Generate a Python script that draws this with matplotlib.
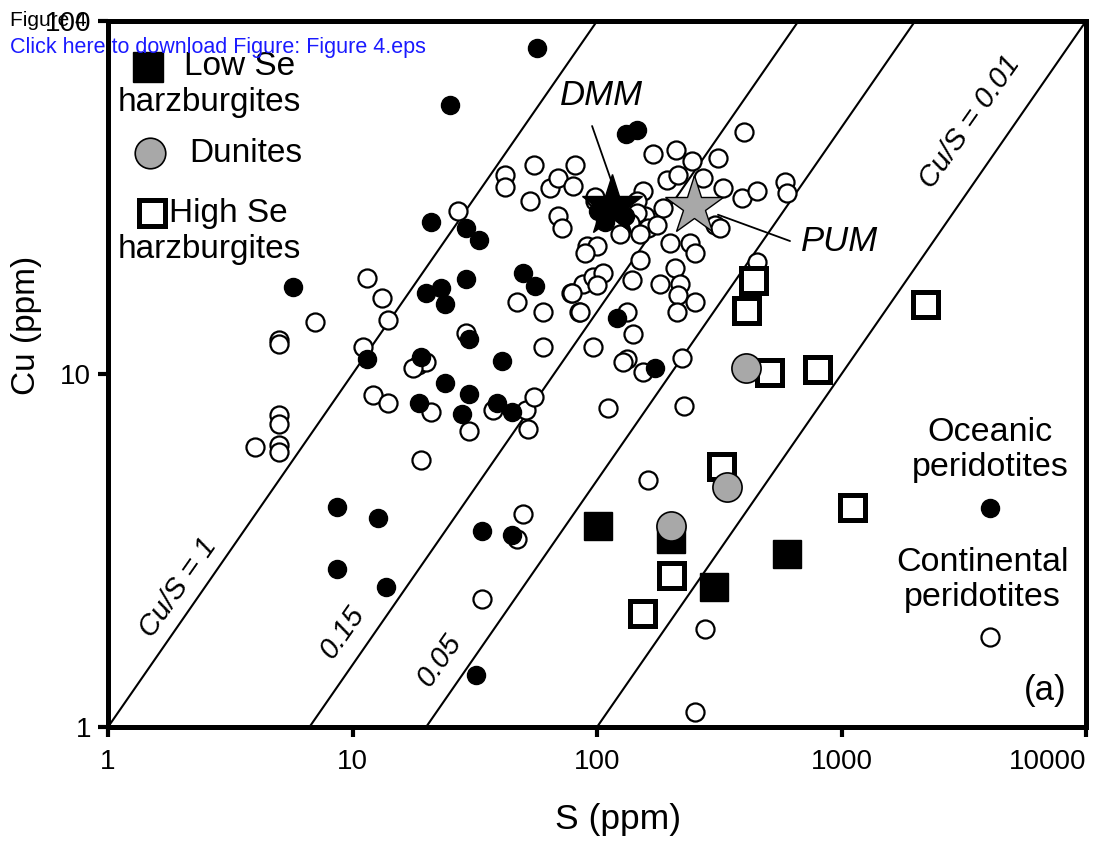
import numpy as np
import matplotlib.pyplot as plt

plt.rcParams['font.family'] = ['Liberation Sans', 'DejaVu Sans']
NARROW = ['Liberation Sans Narrow', 'Liberation Sans']

# continental peridotites (open circles): S, Cu in ppm
cont_S = [42, 42, 55, 53, 64, 69, 81, 80, 69, 72, 27, 98, 91, 100,
          89, 47, 60, 78, 88, 84, 96, 11.5, 13.2, 14, 7, 5, 5, 11, 18.5, 20, 17.7, 60, 96, 29,
          400, 169, 211, 245, 313, 193, 214, 271, 154, 186, 157, 162, 176, 328, 392, 451, 587, 600,
          304, 318, 199, 240,
          252, 150, 208, 219, 181, 214, 252, 212, 139, 140, 133, 154, 223, 450,
          106, 100, 79, 85, 133, 128,
          98, 146, 146, 136, 124, 150,
          12.1, 14, 21, 30, 37.6, 51, 55, 52, 19, 5, 5, 4, 5, 5,
          50, 47, 34, 277, 252, 162, 227, 111]
cont_Cu = [36.6, 33.9, 39, 31, 33.6, 36, 39, 34, 28, 26, 29, 31, 23, 23,
           22, 16, 15, 17, 18, 15, 18.8, 18.7, 16.4, 14.2, 14, 12.5, 12.2, 11.9, 10.6, 10.8, 10.4, 11.9, 11.9, 13.1,
           48.5, 42, 43, 40, 41, 35.5, 36.6, 36, 33, 29.5, 28, 26, 26.4, 33.6, 31.5, 33, 35, 32.6,
           26.4, 26, 23.5, 23.5,
           22, 21, 20, 18, 18, 16.7, 16, 15, 18.5, 13, 11, 10.1, 11.1, 20.8,
           19.3, 17.9, 17, 15, 15, 10.8,
           31.7, 31, 28.6, 26.8, 25, 25,
           8.7, 8.3, 7.8, 6.9, 7.9, 7.9, 8.6, 7.0, 5.7, 7.65, 7.2, 6.2, 6.3, 6.0,
           4.0, 3.4, 2.3, 1.9, 1.1, 5.0, 8.1, 8.0]

# oceanic peridotites (filled circles)
ocean_S = [57, 25, 131, 146, 21, 29, 33, 5.7, 20, 23, 24, 29, 50, 56, 30, 41, 11.5, 19,
           24, 18.7, 30, 28, 39, 45, 8.6, 12.7, 8.6, 13.7, 34, 45, 32, 173, 121, 101, 108, 130]
ocean_Cu = [84, 58, 48, 49, 27, 26, 24, 17.6, 17, 17.5, 15.8, 18.6, 19.3, 17.8, 12.6, 10.9, 11.0, 11.2,
            9.4, 8.3, 8.8, 7.7, 8.3, 7.8, 4.2, 3.9, 2.8, 2.5, 3.6, 3.5, 1.4, 10.4, 14.4, 29, 27, 28]

# this study
lowse_S = [101, 200, 300, 600]
lowse_Cu = [3.7, 3.4, 2.5, 3.1]
highse_S = [435, 405, 505, 795, 2200, 320, 1100, 200, 153]
highse_Cu = [18.5, 15.2, 10.1, 10.3, 15.8, 5.5, 4.2, 2.7, 2.1]
dun_S = [405, 340, 200]
dun_Cu = [10.4, 4.8, 3.7]

dmm = (115, 30)
pum = (250, 30)

ratios = [1, 0.15, 0.05, 0.01]
s_range = [1, 10000]

fig = plt.figure(figsize=(10.99, 8.48), dpi=100)
ax = fig.add_axes([0.0983, 0.1427, 0.8899, 0.8325])
ax.set_xscale('log')
ax.set_yscale('log')
ax.set_xlim(1, 10000)
ax.set_ylim(1, 100)

s_line = np.array(s_range, dtype=float)
for r in ratios:
    ax.plot(s_line, r * s_line, color='black', lw=1.5, zorder=1)

ax.plot(cont_S, cont_Cu, 'o', ms=13, mfc='white', mec='black', mew=1.6, ls='none', zorder=2)
ax.plot(ocean_S, ocean_Cu, 'o', ms=13, mfc='black', mec='black', mew=1, ls='none', zorder=3)
ax.plot(lowse_S, lowse_Cu, 's', ms=20, mfc='black', mec='black', mew=1, ls='none', zorder=4)
ax.plot(highse_S, highse_Cu, 's', ms=18, mfc='white', mec='black', mew=3.6, ls='none', zorder=5)
ax.plot(dun_S, dun_Cu, 'o', ms=21, mfc='#a8a8a8', mec='black', mew=1.2, ls='none', zorder=6)
ax.plot(*dmm, '*', ms=46, mfc='black', mec='black', zorder=7)
ax.plot(*pum, '*', ms=44, mfc='#a8a8a8', mec='black', mew=1, zorder=7)

# annotations
ax.annotate('', xy=(0.518, 0.760), xytext=(0.494, 0.855), xycoords='axes fraction',
            arrowprops=dict(arrowstyle='-', color='black', lw=1.3))
ax.annotate('', xy=(0.621, 0.727), xytext=(0.700, 0.687), xycoords='axes fraction',
            arrowprops=dict(arrowstyle='-', color='black', lw=1.3))
ax.text(0.505, 0.895, 'DMM', transform=ax.transAxes, ha='center', va='center',
        fontsize=25, style='italic')
ax.text(0.748, 0.687, 'PUM', transform=ax.transAxes, ha='center', va='center',
        fontsize=25, style='italic')

ax.text(0.072, 0.198, 'Cu/S = 1', transform=ax.transAxes, ha='center', va='center',
        fontsize=21, style='italic', rotation=55)
ax.text(0.240, 0.134, '0.15', transform=ax.transAxes, ha='center', va='center',
        fontsize=21, style='italic', rotation=55)
ax.text(0.339, 0.095, '0.05', transform=ax.transAxes, ha='center', va='center',
        fontsize=21, style='italic', rotation=55)
ax.text(0.881, 0.857, 'Cu/S = 0.01', transform=ax.transAxes, ha='center', va='center',
        fontsize=21, style='italic', rotation=55)

ax.text(0.958, 0.052, '(a)', transform=ax.transAxes, ha='center', va='center', fontsize=25)
ax.text(0.902, 0.392, 'Oceanic\nperidotites', transform=ax.transAxes, ha='center', va='center',
        fontsize=24.5, linespacing=1.15)
ax.plot(0.902, 0.310, 'o', ms=13, mfc='black', mec='black', transform=ax.transAxes)
ax.text(0.894, 0.208, 'Continental\nperidotites', transform=ax.transAxes, ha='center', va='center',
        fontsize=24.5, linespacing=1.15)
ax.plot(0.902, 0.127, 'o', ms=13, mfc='white', mec='black', mew=1.6, transform=ax.transAxes)

# legend
ax.plot(0.041, 0.935, 's', ms=21, mfc='black', mec='black', transform=ax.transAxes)
ax.text(0.135, 0.935, 'Low Se', transform=ax.transAxes, ha='center', va='center', fontsize=24)
ax.text(0.104, 0.884, 'harzburgites', transform=ax.transAxes, ha='center', va='center', fontsize=24)
ax.plot(0.043, 0.813, 'o', ms=22, mfc='#a8a8a8', mec='black', mew=1.2, transform=ax.transAxes)
ax.text(0.141, 0.813, 'Dunites', transform=ax.transAxes, ha='center', va='center', fontsize=24)
ax.plot(0.045, 0.728, 's', ms=19, mfc='white', mec='black', mew=3.6, transform=ax.transAxes)
ax.text(0.123, 0.728, 'High Se', transform=ax.transAxes, ha='center', va='center', fontsize=24)
ax.text(0.104, 0.676, 'harzburgites', transform=ax.transAxes, ha='center', va='center', fontsize=24)

# axes styling
for sp in ax.spines.values():
    sp.set_linewidth(3.6)
ax.minorticks_off()
ax.set_xticks([1, 10, 100, 1000, 10000])
ax.set_xticklabels(['1', '10', '100', '1000', '10000'], family=NARROW, fontsize=20)
ax.set_yticks([1, 10, 100])
ax.set_yticklabels(['1', '10', '100'], family=NARROW, fontsize=20)
ax.tick_params(which='major', direction='out', length=7, width=3)
ax.tick_params(axis='x', pad=9)
ax.tick_params(axis='y', pad=5)
ax.get_xticklabels()[-1].set_ha('right')

ax.set_xlabel('S (ppm)', fontsize=25.5)
ax.xaxis.set_label_coords(0.522, -0.108)
ax.set_ylabel('Cu (ppm)', fontsize=24)
ax.yaxis.set_label_coords(-0.0675, 0.569)

fig.text(0.009, 1 - 20 / 848, 'Figure 4', fontsize=15, va='center', ha='left')
fig.text(0.009, 1 - 47 / 848, 'Click here to download Figure: Figure 4.eps', fontsize=15.5,
         va='center', ha='left', color='#1a1aff')

fig.savefig('out.png', dpi=100)
